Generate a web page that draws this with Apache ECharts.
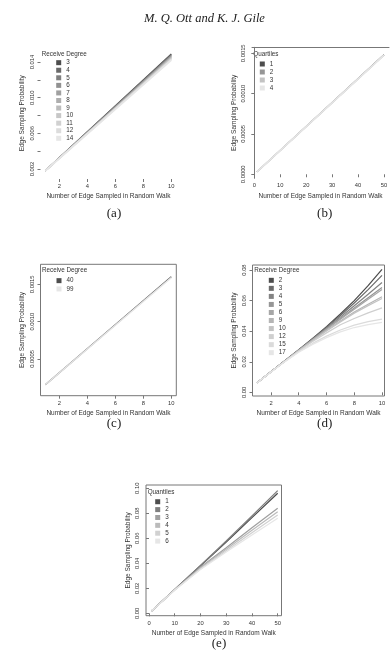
<!DOCTYPE html>
<html>
<head>
<meta charset="utf-8">
<script src="https://cdn.jsdelivr.net/npm/echarts@6/dist/echarts.min.js"></script>
<style>
html, body { margin: 0; padding: 0; background: #fff; }
#main { width: 391px; height: 664px; }
</style>
</head>
<body>
<div id="main"></div>
<script>
// ---- data ----
// (a) receive degree, walk of 10 edges
var aNames = ['3', '4', '5', '6', '7', '8', '9', '10', '11', '12', '14'];
var aX = [1, 10];
var aY = [
    [0.0018, 0.01490], [0.0018, 0.01483], [0.0018, 0.01476], [0.0018, 0.01469],
    [0.0018, 0.01462], [0.0018, 0.01455], [0.0018, 0.01448], [0.0018, 0.01442],
    [0.0018, 0.01435], [0.0018, 0.01428], [0.0018, 0.01422]
];
// (b) quartiles, walk of 50 edges
var bNames = ['1', '2', '3', '4'];
var bX = [1, 50];
var bY = [[0.00003, 0.001482], [0.00003, 0.001480], [0.00003, 0.001479], [0.00003, 0.001477]];
// (c) receive degree 40 / 99
var cNames = ['40', '99'];
var cX = [1, 10];
var cY = [[0.000156, 0.001600], [0.000156, 0.001590]];
// (d) receive degree, walk of 10 edges
var dNames = ['2', '3', '4', '5', '6', '9', '10', '12', '15', '17'];
var dX = [1, 2, 3, 4, 5, 6, 7, 8, 9, 10];
var dY = [
    [0.0063, 0.0134, 0.0206, 0.0278, 0.0352, 0.0430, 0.0512, 0.0600, 0.0698, 0.0804],
    [0.0063, 0.0134, 0.0206, 0.0277, 0.0350, 0.0425, 0.0503, 0.0584, 0.0672, 0.0765],
    [0.0063, 0.0134, 0.0205, 0.0276, 0.0347, 0.0419, 0.0492, 0.0566, 0.0642, 0.0719],
    [0.0063, 0.0134, 0.0205, 0.0275, 0.0345, 0.0414, 0.0483, 0.0551, 0.0619, 0.0686],
    [0.0063, 0.0134, 0.0205, 0.0275, 0.0344, 0.0412, 0.0478, 0.0544, 0.0609, 0.0673],
    [0.0063, 0.0134, 0.0204, 0.0273, 0.0340, 0.0404, 0.0466, 0.0526, 0.0576, 0.0625],
    [0.0063, 0.0134, 0.0204, 0.0272, 0.0338, 0.0401, 0.0461, 0.0518, 0.0567, 0.0614],
    [0.0063, 0.0133, 0.0203, 0.0270, 0.0332, 0.0389, 0.0442, 0.0483, 0.0520, 0.0553],
    [0.0063, 0.0133, 0.0202, 0.0265, 0.0320, 0.0368, 0.0408, 0.0440, 0.0462, 0.0479],
    [0.0063, 0.0133, 0.0201, 0.0262, 0.0314, 0.0358, 0.0395, 0.0424, 0.0443, 0.0458]
];
// (e) quantiles, walk of 50 edges
var eNames = ['1', '2', '3', '4', '5', '6'];
var eX = [1, 10, 20, 30, 40, 50];
var eY = [
    [0.0019, 0.0190, 0.0380, 0.0570, 0.0765, 0.0960],
    [0.0019, 0.0190, 0.0382, 0.0578, 0.0778, 0.0981],
    [0.0019, 0.0188, 0.0368, 0.0525, 0.0685, 0.0840],
    [0.0019, 0.0188, 0.0362, 0.0512, 0.0665, 0.0813],
    [0.0019, 0.0187, 0.0355, 0.0500, 0.0645, 0.0786],
    [0.0019, 0.0186, 0.0350, 0.0490, 0.0627, 0.0760]
];

// tick values
var xTicks10 = [2, 4, 6, 8, 10];
var xTicks50 = [0, 10, 20, 30, 40, 50];
var aTicks = [0.002, 0.004, 0.006, 0.008, 0.010, 0.012, 0.014];
var aLabels = [0.002, 0.006, 0.010, 0.014];
var bTicks = [0, 0.0005, 0.0010, 0.0015];
var cTicks = [0.0005, 0.0010, 0.0015];
var dTicks = [0, 0.02, 0.04, 0.06, 0.08];
var eTicks = [0, 0.02, 0.04, 0.06, 0.08, 0.10];

// gray.colors() style ramps
var gray11 = ['#4d4d4d', '#696969', '#7f7f7f', '#919191', '#a0a0a0', '#aeaeae', '#bbbbbb', '#c7c7c7', '#d1d1d1', '#dcdcdc', '#e6e6e6'];
var gray10 = ['#4d4d4d', '#6c6c6c', '#838383', '#969696', '#a7a7a7', '#b5b5b5', '#c3c3c3', '#cfcfcf', '#dbdbdb', '#e6e6e6'];
var gray6 = ['#4d4d4d', '#7f7f7f', '#a0a0a0', '#bbbbbb', '#d1d1d1', '#e6e6e6'];
var gray4 = ['#4d4d4d', '#969696', '#c3c3c3', '#e6e6e6'];
var gray2 = ['#4d4d4d', '#e6e6e6'];

var FONT = 'Liberation Sans, Arial, sans-serif';
var SERIF = 'Liberation Serif, Times New Roman, serif';
var TXT = '#333';
var BOX = '#777';

// layout of the five panels (pixels); topW = width of the last (lightest) line,
// which sits over the others where they overlap
var panels = [
    {key: 'a', box: [40.5, 47.5, 135.8, 131.5], xr: [0.657, 10.357], yr: [0.00088, 0.01563],
        xt: xTicks10, yt: aTicks, yl: aLabels, dec: 3, frame: 'none', topW: 1.8,
        names: aNames, xs: aX, ys: aY, cols: gray11,
        lg: [56.2, 58.9, 7.56], title: ['Receive Degree', 41.7, 54], cap: ['(a)', 114, 213.5]},
    {key: 'b', box: [252, 47.3, 137, 131], xr: [-0.89, 51.93], yr: [-0.00005, 0.001574],
        xt: xTicks50, yt: bTicks, yl: bTicks, dec: 4, frame: 'lefttop', topW: 1.8,
        names: bNames, xs: bX, ys: bY, cols: gray4,
        lg: [259.8, 60, 8], title: ['Quartiles', 253.3, 54], cap: ['(b)', 324.7, 213.3]},
    {key: 'c', box: [40.5, 264.3, 135.8, 131.4], xr: [0.657, 10.357], yr: [0.0000087, 0.001768],
        xt: xTicks10, yt: cTicks, yl: cTicks, dec: 4, frame: 'box', topW: 1.5,
        names: cNames, xs: cX, ys: cY, cols: gray2,
        lg: [56.5, 276.5, 8.3], title: ['Receive Degree', 42, 270.7], cap: ['(c)', 114, 423.3]},
    {key: 'd', box: [252.5, 265, 132, 131], xr: [0.667, 10.18], yr: [-0.0024, 0.0833],
        xt: xTicks10, yt: dTicks, yl: dTicks, dec: 2, frame: 'box', topW: 1.25,
        names: dNames, xs: dX, ys: dY, cols: gray10,
        lg: [268.8, 276.3, 8.04], title: ['Receive Degree', 254.3, 270.7], cap: ['(d)', 324.7, 423.3]},
    {key: 'e', box: [146, 485, 135.5, 130.7], xr: [-1.17, 51.48], yr: [-0.0019, 0.1026],
        xt: xTicks50, yt: eTicks, yl: eTicks, dec: 2, frame: 'box', topW: 1.25,
        names: eNames, xs: eX, ys: eY, cols: gray6,
        lg: [155.2, 497.8, 7.87], title: ['Quantiles', 147.7, 492.3], cap: ['(e)', 219, 643.3]}
];

var grid = [], xAxis = [], yAxis = [], series = [], legend = [];
var graphic = [{
    type: 'text', x: 204.5, y: 19,
    style: {text: 'M. Q. Ott and K. J. Gile', fill: '#222', font: 'italic 12.5px ' + SERIF,
        align: 'center', verticalAlign: 'middle'}
}];

panels.forEach(function (p, gi) {
    grid.push({
        left: p.box[0], top: p.box[1], width: p.box[2], height: p.box[3],
        show: p.frame === 'box', borderColor: BOX, borderWidth: 1,
        backgroundColor: 'transparent', containLabel: false, outerBoundsMode: 'none'
    });
    var xi = xAxis.length;
    xAxis.push({
        type: 'value', gridIndex: gi, min: p.xr[0], max: p.xr[1],
        axisLine: {show: false},
        axisTick: {show: true, length: 3, customValues: p.xt, lineStyle: {color: BOX}},
        axisLabel: {customValues: p.xt, fontSize: 5.8, color: TXT, fontFamily: FONT, margin: 4.2},
        splitLine: {show: false},
        name: 'Number of Edge Sampled in Random Walk', nameLocation: 'middle', nameGap: 14,
        nameTextStyle: {fontSize: 6.5, color: TXT, fontFamily: FONT}
    });
    if (p.frame === 'lefttop') {
        // only the top edge of the box shows in this panel
        xAxis.push({
            type: 'value', gridIndex: gi, position: 'top', min: p.xr[0], max: p.xr[1],
            axisLine: {show: true, lineStyle: {color: BOX, width: 1}},
            axisTick: {show: false}, axisLabel: {show: false}, splitLine: {show: false}
        });
    }
    var dec = p.dec;
    yAxis.push({
        type: 'value', gridIndex: gi, min: p.yr[0], max: p.yr[1],
        axisLine: {show: p.frame === 'lefttop', lineStyle: {color: BOX, width: 1}},
        axisTick: {show: true, length: 3, customValues: p.yt, lineStyle: {color: BOX}},
        axisLabel: {
            customValues: p.yl, rotate: 90, fontSize: 5.8, color: TXT, fontFamily: FONT, margin: 5.6,
            formatter: function (v) { return v.toFixed(dec); }
        },
        splitLine: {show: false},
        name: 'Edge Sampling Probability', nameLocation: 'middle', nameGap: 14.5,
        nameTextStyle: {fontSize: 6.5, color: TXT, fontFamily: FONT}
    });

    var legendNames = [];
    var last = p.names.length - 1;
    p.names.forEach(function (n, k) {
        var nm = p.key + ' ' + n;
        legendNames.push(nm);
        series.push({
            name: nm, type: 'line', xAxisIndex: xi, yAxisIndex: gi,
            data: p.xs.map(function (x, j) { return [x, p.ys[k][j]]; }),
            showSymbol: false, symbol: 'none', silent: true,
            color: p.cols[k],
            itemStyle: {color: p.cols[k]},
            lineStyle: {color: p.cols[k], width: k === last ? p.topW : 1.25}
        });
    });

    legend.push({
        orient: 'vertical', left: p.lg[0], top: p.lg[1], padding: 0, itemGap: 0,
        itemWidth: 5, itemHeight: 5, icon: 'rect', selectedMode: false,
        data: legendNames,
        formatter: function (n) { return n.split(' ')[1]; },
        textStyle: {fontSize: 6.3, lineHeight: p.lg[2], color: TXT, fontFamily: FONT}
    });

    graphic.push({
        type: 'text', x: p.title[1], y: p.title[2],
        style: {text: p.title[0], fill: TXT, font: '6.3px ' + FONT, align: 'left', verticalAlign: 'middle'}
    });
    graphic.push({
        type: 'text', x: p.cap[1], y: p.cap[2],
        style: {text: p.cap[0], fill: '#222', font: '13px ' + SERIF, align: 'center', verticalAlign: 'middle'}
    });
});

var chart = echarts.init(document.getElementById('main'));
chart.setOption({
    animation: false,
    backgroundColor: '#fff',
    grid: grid,
    xAxis: xAxis,
    yAxis: yAxis,
    legend: legend,
    series: series,
    graphic: graphic
});
</script>
</body>
</html>
